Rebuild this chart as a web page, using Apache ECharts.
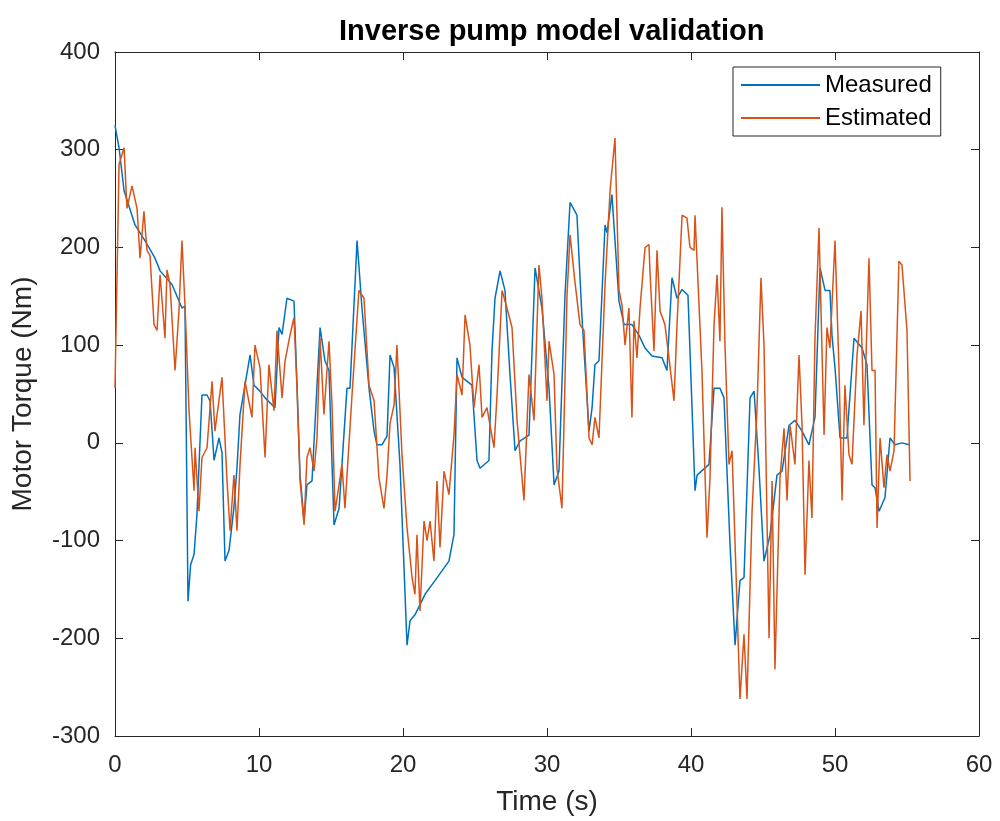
<!DOCTYPE html>
<html>
<head>
<meta charset="utf-8">
<script src="https://cdn.jsdelivr.net/npm/echarts@6/dist/echarts.min.js"></script>
<style>html,body{margin:0;padding:0;background:#fff}#c{width:1000px;height:821px}</style>
</head>
<body>
<div id="c"></div>
<script>
const xTicks = [0, 10, 20, 30, 40, 50, 60];
const yTicks = [-300, -200, -100, 0, 100, 200, 300, 400];
const seriesNames = ['Measured', 'Estimated'];

const measuredTime = [0,0.28,0.63,1.39,2.08,2.78,3.13,3.96,4.65,4.86,5.07,5.25,5.49,5.69,6.04,6.39,6.6,6.88,7.22,7.43,7.64,7.92,8.26,8.47,8.68,9.38,9.65,10.0,10.42,11.11,11.39,11.6,11.94,12.43,12.64,12.85,13.13,13.33,13.68,14.24,14.58,14.86,15.21,15.56,16.11,16.32,16.81,17.15,17.64,17.99,18.19,18.54,18.89,19.1,19.38,19.79,20.28,20.49,20.83,21.53,22.22,23.19,23.54,23.75,24.1,24.79,25.14,25.35,25.97,26.18,26.39,26.74,27.08,27.43,27.78,28.13,28.75,29.17,29.65,30.14,30.49,30.83,31.25,31.6,32.08,32.43,32.92,33.13,33.33,33.61,34.03,34.17,34.51,35.0,35.35,35.9,36.39,36.81,37.29,37.99,38.33,38.68,39.03,39.38,39.79,40.28,40.42,41.25,41.6,42.01,42.29,42.71,43.06,43.4,43.68,44.1,44.38,44.72,45.07,45.49,45.97,46.32,46.81,47.22,47.71,48.19,48.61,48.96,49.31,49.65,49.79,50.0,50.35,50.83,51.32,51.88,52.22,52.57,52.78,53.06,53.47,53.82,54.17,54.65,55.14];
const measuredTorque = [325,302,258,223,207,189,176,162,138,140,-162,-125,-114,-74,49,49,43,-18,5,-10,-121,-110,-66,-26,29,90,59,54,46,36,118,111,148,145,59,-33,-80,-43,-39,118,84,74,-84,-67,56,56,207,138,56,12,-2,-2,7,90,77,-22,-207,-182,-176,-155,-141,-121,-94,87,67,59,-18,-26,-18,94,148,176,156,70,-8,2,8,179,138,56,-43,-29,151,246,233,128,12,36,80,84,223,215,254,145,121,121,110,97,89,87,74,169,148,157,151,-49,-33,-22,56,56,46,-104,-207,-141,-138,46,53,-26,-121,-94,-33,-29,18,23,12,-2,26,179,156,156,110,77,5,5,107,97,80,-43,-46,-70,-56,5,-2,0,-2];

const estimatedTime = [0,0.28,0.63,0.83,1.18,1.53,1.74,2.01,2.22,2.43,2.71,2.92,3.13,3.47,3.61,3.82,4.17,4.44,4.65,4.86,5.14,5.49,5.56,5.83,6.04,6.39,6.74,6.94,7.43,7.78,7.99,8.26,8.47,8.68,9.03,9.51,9.72,10.07,10.42,10.69,11.04,11.25,11.6,11.81,12.15,12.43,12.64,12.85,13.13,13.33,13.54,13.82,14.03,14.24,14.51,14.86,15.07,15.28,15.56,15.76,15.97,16.46,16.94,17.29,17.64,17.99,18.33,18.68,18.89,19.1,19.38,19.58,19.93,20.28,20.63,20.83,20.97,21.18,21.46,21.67,21.88,22.15,22.36,22.57,22.85,23.19,23.54,23.75,24.1,24.31,24.65,24.93,25.28,25.49,25.83,26.32,26.53,26.88,27.22,27.57,27.92,28.4,28.75,29.1,29.44,29.65,30.0,30.14,30.49,30.69,31.04,31.39,31.6,31.94,32.29,32.57,32.92,33.13,33.33,33.61,34.03,34.38,34.72,35.0,35.21,35.42,35.69,35.9,36.04,36.25,36.46,36.81,37.08,37.15,37.43,37.64,37.85,38.19,38.47,38.82,39.03,39.38,39.72,39.93,40.21,40.28,40.76,40.97,41.11,41.32,41.6,41.81,42.01,42.15,42.36,42.64,42.85,43.19,43.4,43.68,43.89,44.24,44.58,44.86,45.07,45.42,45.63,45.83,46.18,46.46,46.67,46.88,47.22,47.5,47.71,47.92,48.19,48.4,48.61,48.89,49.24,49.44,49.65,50.0,50.28,50.49,50.69,50.97,51.18,51.53,51.81,52.01,52.36,52.57,52.78,52.92,53.13,53.4,53.61,53.82,54.1,54.44,54.65,55.0,55.21];
const estimatedTorque = [56,285,302,240,263,240,189,237,197,192,121,115,172,107,177,162,74,135,207,141,33,-49,-5,-70,-15,-5,63,12,67,-39,-90,-33,-90,-23,63,26,100,77,-15,80,33,115,46,84,110,128,56,-39,-84,-15,-5,-29,5,107,29,104,39,-70,-43,-22,-67,49,156,148,59,43,-36,-67,-33,20,39,100,-12,-87,-138,-155,-94,-172,-80,-100,-80,-121,-39,-107,-29,-53,8,70,49,131,100,36,80,26,36,-5,49,156,138,118,23,-59,70,23,182,148,43,104,70,-26,-67,151,213,165,121,115,5,-2,26,5,162,258,312,156,141,100,138,26,125,87,138,200,203,176,94,197,135,121,87,43,121,233,230,200,197,233,74,-30,-97,-36,121,172,104,241,100,-22,-8,-162,-262,-196,-262,-70,33,169,100,-200,-39,-232,-36,15,-59,18,-22,90,18,-135,-18,-77,107,220,8,118,97,207,74,-59,59,-12,-22,90,135,18,189,74,74,-87,5,-46,-12,-29,-8,186,182,115,-39];

const zip = (a, b) => a.map((v, i) => [v, b[i]]);
const FONT = 'Liberation Sans, Arial, Helvetica, sans-serif';
const AX = '#262626';

const chart = echarts.init(document.getElementById('c'), null, {renderer: 'canvas'});
const baseX = {
  type: 'value', min: xTicks[0], max: xTicks[xTicks.length - 1], interval: 10,
  axisLine: {show: true, onZero: false, lineStyle: {color: AX, width: 1}},
  axisTick: {show: true, inside: true, length: 8, lineStyle: {color: AX}},
  splitLine: {show: false}
};
const baseY = {
  type: 'value', min: yTicks[0], max: yTicks[yTicks.length - 1], interval: 100,
  axisLine: {show: true, onZero: false, lineStyle: {color: AX, width: 1}},
  axisTick: {show: true, inside: true, length: 8, lineStyle: {color: AX}},
  splitLine: {show: false}
};
chart.setOption({
  animation: false,
  backgroundColor: '#fff',
  title: {
    text: 'Inverse pump model validation',
    left: 334, top: 12,
    textStyle: {fontFamily: FONT, fontSize: 29, fontWeight: 'bold', color: '#000'}
  },
  legend: {
    data: seriesNames,
    orient: 'vertical', left: 733, top: 67, align: 'left',
    icon: 'rect', itemWidth: 79, itemHeight: 2, itemGap: 9,
    padding: [6, 9, 6, 8],
    borderColor: AX, borderWidth: 1, backgroundColor: '#fff',
    textStyle: {fontFamily: FONT, fontSize: 24, color: '#000'}
  },
  grid: {left: 115, right: 21, top: 52, bottom: 85, containLabel: false},
  xAxis: [
    Object.assign({}, baseX, {
      position: 'bottom',
      name: 'Time (s)', nameLocation: 'middle', nameGap: 52,
      nameTextStyle: {fontFamily: FONT, fontSize: 28, color: AX},
      axisLabel: {fontFamily: FONT, fontSize: 24, color: AX, margin: 17}
    }),
    Object.assign({}, baseX, {position: 'top', axisLabel: {show: false}})
  ],
  yAxis: [
    Object.assign({}, baseY, {
      position: 'left',
      name: 'Motor Torque (Nm)', nameLocation: 'middle', nameGap: 78,
      nameTextStyle: {fontFamily: FONT, fontSize: 28, color: AX},
      axisLabel: {fontFamily: FONT, fontSize: 24, color: AX, margin: 15}
    }),
    Object.assign({}, baseY, {position: 'right', axisLabel: {show: false}})
  ],
  series: [
    {
      name: seriesNames[0], type: 'line', xAxisIndex: 0, yAxisIndex: 0,
      data: zip(measuredTime, measuredTorque),
      symbol: 'none', showSymbol: false, smooth: false,
      itemStyle: {color: '#0072BD'},
      lineStyle: {color: '#0072BD', width: 1.5}, z: 3
    },
    {
      name: seriesNames[1], type: 'line', xAxisIndex: 0, yAxisIndex: 0,
      data: zip(estimatedTime, estimatedTorque),
      symbol: 'none', showSymbol: false, smooth: false,
      itemStyle: {color: '#D95319'},
      lineStyle: {color: '#D95319', width: 1.5}, z: 4
    }
  ]
});
</script>
</body>
</html>
